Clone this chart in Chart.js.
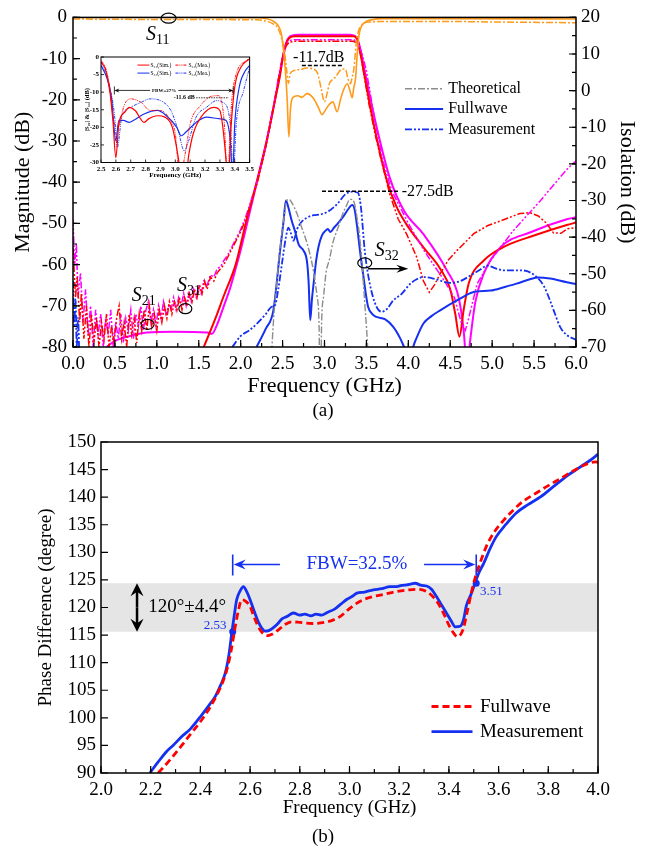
<!DOCTYPE html>
<html lang="pt">
<head>
<meta charset="utf-8">
<title>Magnitude e diferenca de fase</title>
<script src="https://cdn.jsdelivr.net/npm/chart.js@4.4.1/dist/chart.umd.min.js"></script>
<style>
  body { margin: 0; background: #fff; }
  #quadro { position: relative; width: 646px; height: 850px; overflow: hidden; }
  canvas { position: absolute; }
  #grafA { left: 0; top: 0; }
  #grafInset { left: 58px; top: 48px; }
  #grafB { left: 0; top: 420px; }
</style>
</head>
<body>
<div id="quadro">
  <canvas id="grafA" width="646" height="420"></canvas>
  <canvas id="grafInset" width="198" height="132"></canvas>
  <canvas id="grafB" width="646" height="430"></canvas>
</div>
<script>
// ---------- grafico (a): magnitude, eixo esquerdo (dB) ----------
var s11SimFreq = [0, 1.0, 2.2, 2.3, 2.38, 2.44, 2.48, 2.5, 2.53, 2.555, 2.575, 2.595, 2.62, 2.68, 2.73, 2.79, 2.87, 2.93, 2.97, 3.01, 3.05, 3.1, 3.15, 3.19, 3.22, 3.27, 3.3, 3.33, 3.35, 3.37, 3.39, 3.41, 3.44, 3.48, 3.56, 3.7, 4.5, 6.0];
var s11SimDb = [0, 0, -0.1, -0.3, -0.8, -1.8, -3.5, -6, -12, -20, -29, -22, -19.5, -19, -19.4, -18.5, -19.7, -22, -23.6, -22.5, -21.3, -20.5, -22.9, -20, -18, -16.1, -17.5, -19.5, -17, -14.9, -9, -4.5, -2.2, -1.2, -0.6, -0.3, -0.3, -0.4];

var s11MedFreq = [0, 1.0, 2.2, 2.3, 2.38, 2.44, 2.48, 2.52, 2.55, 2.57, 2.59, 2.64, 2.74, 2.78, 2.86, 2.92, 2.96, 3.0, 3.03, 3.06, 3.09, 3.13, 3.17, 3.21, 3.25, 3.28, 3.31, 3.33, 3.35, 3.38, 3.41, 3.46, 3.55, 3.7, 4.5, 5.0, 6.0];
var s11MedDb = [-0.4, -0.5, -0.6, -0.9, -1.5, -2.5, -4.5, -8, -13, -16, -13.7, -12.9, -12.5, -12.3, -12.5, -13.7, -17.3, -20.5, -18.5, -16, -15.2, -14.5, -13.3, -12.5, -12.6, -14.9, -16.1, -14.5, -12.5, -6, -3, -1.6, -1.1, -1.0, -1.0, -1.1, -1.3];

var s21SimFreq = [1.56, 1.70, 1.80, 1.94, 2.06, 2.19, 2.31, 2.41, 2.47, 2.50, 2.54, 2.58, 2.65, 3.35, 3.40, 3.44, 3.53, 3.63, 3.75, 3.86, 3.97, 4.18, 4.38, 4.50, 4.56, 4.61, 4.66, 4.72, 4.90, 5.17, 5.49, 5.89, 6.00];
var s21SimDb = [-80, -73, -67.5, -60, -50, -40, -30, -20, -14, -10, -6.5, -5, -4.6, -4.6, -6, -10, -20, -30, -40, -46, -50, -55.8, -61, -66, -72, -77.5, -71, -64.6, -59, -55.4, -53, -50.4, -49.8];

var s31SimFreq = [0.40, 0.50, 0.65, 0.88, 1.20, 1.60, 1.66, 1.71, 1.80, 1.87, 1.94, 2.00, 2.10, 2.20, 2.31, 2.41, 2.47, 2.51, 2.55, 2.60, 2.70, 3.30, 3.38, 3.42, 3.47, 3.55, 3.65, 3.78, 3.95, 4.18, 4.46, 4.60, 4.66, 4.70, 4.74, 4.80, 4.90, 5.10, 5.45, 5.89, 6.00];
var s31SimDb = [-80, -78.5, -77.5, -76.5, -76.3, -76.5, -76.8, -75, -70, -66, -61, -56.5, -48, -39.5, -30, -20, -13.5, -9, -5.8, -4.5, -4.2, -4.2, -4.8, -7, -12, -20, -29, -39, -47, -52.6, -61.4, -68, -76, -85, -78, -69, -62.2, -55.8, -52.2, -49, -48.5];

var s21MedFreq = [0.00, 0.03, 0.05, 0.08, 0.10, 0.13, 0.16, 0.19, 0.22, 0.25, 0.28, 0.31, 0.34, 0.37, 0.40, 0.43, 0.46, 0.49, 0.52, 0.55, 0.58, 0.61, 0.64, 0.67, 0.70, 0.73, 0.76, 0.79, 0.82, 0.85, 0.88, 0.91, 0.94, 0.97, 1.00, 1.03, 1.06, 1.09, 1.12, 1.15, 1.18, 1.21, 1.24, 1.27, 1.30, 1.33, 1.36, 1.39, 1.42, 1.45, 1.48, 1.51, 1.54, 1.57, 1.60, 1.64, 1.68, 1.72, 1.76, 1.80, 1.85, 1.90, 1.95, 2.00, 2.05, 2.10, 2.20, 2.30, 2.40, 2.46, 2.50, 2.54, 2.58, 2.65, 3.35, 3.40, 3.44, 3.48, 3.53, 3.60, 3.68, 3.78, 3.88, 3.98, 4.10, 4.18, 4.25, 4.31, 4.38, 4.48, 4.58, 4.78, 4.95, 5.10, 5.33, 5.45, 5.55, 5.65, 5.73, 5.82, 5.90, 6.00];
var s21MedDb = [-56, -68, -63, -74, -67, -78, -70, -80, -72, -79, -73, -80, -74, -78, -72, -80, -75, -79, -73, -70, -78, -74, -80, -72, -77, -73, -79, -72, -76, -71, -76, -70, -75, -72, -76, -71, -74, -70, -73, -69, -72, -69, -71, -68, -71, -68, -70, -67, -69, -66, -68, -65, -67, -64, -66, -63, -64, -62, -61, -60, -58, -56, -54, -52, -49.5, -46.5, -40, -31.5, -21, -14, -10, -7, -6, -5.8, -5.8, -6.5, -10, -15, -21, -28, -35, -43, -49, -52.6, -58.2, -64, -66.7, -65, -62.2, -58.8, -56.6, -52.5, -50.5, -49.4, -47.6, -47.4, -48.2, -50, -52.3, -52.4, -51.3, -51];

var s31MedFreq = [0.00, 0.02, 0.04, 0.06, 0.09, 0.12, 0.15, 0.18, 0.21, 0.24, 0.27, 0.30, 0.33, 0.36, 0.39, 0.42, 0.45, 0.48, 0.51, 0.54, 0.57, 0.60, 0.63, 0.66, 0.69, 0.72, 0.75, 0.78, 0.81, 0.84, 0.87, 0.90, 0.93, 0.96, 0.99, 1.02, 1.05, 1.08, 1.11, 1.14, 1.17, 1.20, 1.23, 1.26, 1.29, 1.32, 1.35, 1.38, 1.41, 1.44, 1.47, 1.50, 1.53, 1.56, 1.60, 1.64, 1.68, 1.72, 1.76, 1.80, 1.85, 1.90, 1.95, 2.00, 2.05, 2.10, 2.20, 2.30, 2.40, 2.46, 2.50, 2.54, 2.58, 2.65, 3.35, 3.40, 3.45, 3.50, 3.60, 3.70, 3.80, 4.00, 4.20, 4.40, 4.55, 4.63, 4.68, 4.72, 4.82, 4.98, 5.25, 5.57, 5.89, 6.00];
var s31MedDb = [-49, -60, -55, -68, -62, -74, -66, -77, -70, -80, -71, -77, -72, -80, -73, -77, -71, -80, -74, -78, -72, -79, -73, -76, -71, -78, -72, -75, -70, -76, -71, -69, -74, -71, -75, -70, -73, -69, -72, -70, -71, -68, -71, -68, -70, -67, -70, -67, -69, -66, -68, -65, -67, -64, -65, -62.5, -63, -61, -60.5, -59, -57.5, -55.5, -53.5, -51.5, -49, -46, -39.5, -31, -20.5, -13.5, -9.5, -6.5, -5.6, -5.4, -5.4, -6, -9, -13, -25, -35, -42, -50, -57, -63, -68, -74, -76, -73, -64.7, -59, -51.8, -44.6, -36.9, -34.8];

// ---------- grafico (a): isolacao S32, eixo direito (dB) ----------
var teoFreq = [2.36, 2.40, 2.43, 2.46, 2.49, 2.52, 2.55, 2.58, 2.62, 2.67, 2.73, 2.79, 2.84, 2.87, 2.91, 2.935, 2.95, 2.965, 2.99, 3.02, 3.06, 3.10, 3.16, 3.22, 3.27, 3.30, 3.33, 3.36, 3.39, 3.42, 3.45, 3.48, 3.51, 3.53];
var teoDb = [-75, -60, -52.7, -45, -39.2, -34, -30, -29.7, -31, -33.5, -37.5, -41.5, -46, -49.5, -56, -64, -90, -64, -56, -49.5, -46, -41.5, -37.5, -33.5, -31, -29.7, -29.7, -31, -35, -40, -48, -58, -68, -78];

var s32SimFreq = [2.19, 2.30, 2.39, 2.47, 2.51, 2.54, 2.57, 2.61, 2.65, 2.69, 2.75, 2.79, 2.81, 2.83, 2.85, 2.87, 2.90, 2.93, 2.97, 3.01, 3.04, 3.07, 3.11, 3.15, 3.23, 3.30, 3.33, 3.36, 3.40, 3.43, 3.46, 3.49, 3.52, 3.57, 3.62, 3.72, 3.82, 3.90, 3.96, 4.01, 4.08, 4.18, 4.28, 4.38, 4.58, 4.78, 4.98, 5.15, 5.29, 5.45, 5.55, 5.69, 5.89, 6.00];
var s32SimDb = [-70, -65, -60, -43.7, -36, -30, -32, -35.6, -38.5, -41.9, -43.7, -46.5, -52, -62.7, -57, -52.7, -46.5, -42.5, -39.5, -38.3, -37.8, -38.6, -37.5, -36.5, -34.2, -31.8, -31.2, -32.5, -39.2, -45, -50, -55, -59, -61, -61.8, -62.4, -64.5, -67.5, -70.5, -72.5, -68.5, -63.6, -61.5, -60, -57.3, -55, -54.6, -53.6, -52.7, -51.5, -51, -51.3, -52.3, -52.8];

var s32MedFreq = [0.00, 0.015, 0.03, 0.045, 0.06, 0.075, 0.1, 1.90, 2.00, 2.10, 2.20, 2.30, 2.37, 2.41, 2.45, 2.50, 2.54, 2.57, 2.60, 2.63, 2.67, 2.72, 2.79, 2.87, 2.95, 3.05, 3.15, 3.25, 3.33, 3.40, 3.42, 3.44, 3.48, 3.54, 3.62, 3.68, 3.75, 3.82, 3.92, 4.02, 4.10, 4.18, 4.30, 4.50, 4.62, 4.74, 4.85, 4.94, 5.04, 5.14, 5.37, 5.53, 5.62, 5.69, 5.75, 5.81, 5.89, 6.00];
var s32MedDb = [-52, -64, -57, -70, -62, -72, null, -70, -67, -65.5, -63.5, -61, -59, -58.6, -54, -46, -40, -37.4, -39, -41, -38, -36, -34.7, -34, -33.8, -32.9, -31, -28.3, -27.6, -27.9, -29.5, -33, -43.7, -52.7, -59, -60.4, -59.5, -57.3, -55.5, -52.8, -51.5, -50.9, -51.3, -52.5, -52, -50.5, -49, -47.8, -48.5, -49.1, -49.1, -50.9, -53.5, -57.3, -61, -64.5, -66.7, -68];

// ---------- detalhe (inset): |S22| e |S33| ----------
var s22SimFreq = [2.50, 2.53, 2.56, 2.58, 2.60, 2.62, 2.66, 2.69, 2.73, 2.79, 2.82, 2.88, 2.93, 2.98, 3.02, 3.045, 3.065, 3.09, 3.12, 3.18, 3.26, 3.30, 3.32, 3.34, 3.355, 3.375, 3.40, 3.44, 3.50];
var s22SimDb = [-1.4, -3.5, -10, -18, -28.6, -19, -15.7, -14.3, -15.2, -18.6, -17.6, -16.7, -17.1, -20, -28.6, -36, -36, -28, -21.9, -16.7, -14.3, -15.2, -20, -28.6, -36, -20, -8.5, -3, -0.5];
var s22MedFreq = [2.50, 2.53, 2.56, 2.58, 2.61, 2.66, 2.70, 2.77, 2.83, 2.90, 2.96, 3.00, 3.03, 3.07, 3.10, 3.17, 3.23, 3.29, 3.31, 3.33, 3.35, 3.38, 3.41, 3.47, 3.50];
var s22MedDb = [-1, -3, -9, -17, -20, -13.3, -11.9, -12.9, -15.2, -15.2, -17.6, -21.9, -34, -26.7, -19, -13.8, -11.4, -11, -12.4, -19, -34, -12.4, -4.8, -1.2, -0.5];
var s33SimFreq = [2.50, 2.54, 2.57, 2.60, 2.62, 2.65, 2.69, 2.72, 2.79, 2.88, 2.94, 3.01, 3.04, 3.07, 3.14, 3.21, 3.30, 3.34, 3.37, 3.385, 3.40, 3.43, 3.47, 3.50];
var s33SimDb = [-2.4, -6, -11.4, -23.8, -18, -18, -18.6, -18, -16.2, -15.2, -16.7, -20, -22.4, -21.4, -18.6, -17.1, -17.6, -18, -23.8, -34, -19, -8.6, -4, -2.4];
var s33MedFreq = [2.50, 2.55, 2.59, 2.61, 2.64, 2.70, 2.77, 2.83, 2.90, 2.97, 3.02, 3.06, 3.09, 3.14, 3.21, 3.28, 3.32, 3.37, 3.39, 3.41, 3.46, 3.50];
var s33MedDb = [-1.4, -7, -16.2, -25.7, -17, -14.3, -12.9, -11.9, -12.4, -15.2, -21, -26.7, -23.8, -17.1, -14.3, -12.4, -12.9, -19, -34, -19, -9.5, -2.9];

// ---------- grafico (b): diferenca de fase ----------
var fwFreq = [2.23, 2.28, 2.325, 2.365, 2.405, 2.44, 2.47, 2.49, 2.51, 2.525, 2.54, 2.553, 2.566, 2.58, 2.60, 2.615, 2.633, 2.65, 2.673, 2.69, 2.71, 2.74, 2.767, 2.80, 2.85, 2.91, 2.96, 2.995, 3.03, 3.06, 3.096, 3.14, 3.19, 3.24, 3.28, 3.31, 3.335, 3.356, 3.38, 3.40, 3.42, 3.435, 3.45, 3.46, 3.475, 3.49, 3.505, 3.525, 3.55, 3.58, 3.62, 3.66, 3.70, 3.75, 3.80, 3.85, 3.89, 3.93, 3.96, 3.99, 4.0];
var fwFase = [90, 92.5, 95, 97.3, 99.6, 102, 104.5, 106.5, 109.3, 112.5, 116.5, 119.5, 121.4, 121.2, 120.2, 118.4, 116.5, 115.4, 114.9, 115.2, 115.8, 116.9, 117.4, 117.3, 117.1, 117.4, 118.3, 119.6, 120.8, 121.5, 122, 122.4, 122.9, 123.2, 123.3, 122.9, 122, 120.8, 118.8, 116.8, 115.3, 114.7, 115.3, 116.5, 119.5, 122.6, 125.3, 128, 131, 133.5, 135.8, 137.7, 139.3, 140.7, 142.1, 143.4, 144.5, 145.5, 146.1, 146.4, 146.3];

var medFreq = [2.197, 2.23, 2.264, 2.29, 2.325, 2.36, 2.405, 2.43, 2.46, 2.48, 2.50, 2.515, 2.526, 2.536, 2.546, 2.56, 2.573, 2.585, 2.60, 2.615, 2.633, 2.648, 2.66, 2.675, 2.69, 2.71, 2.727, 2.75, 2.774, 2.80, 2.82, 2.845, 2.865, 2.888, 2.91, 2.94, 2.965, 2.99, 3.01, 3.03, 3.06, 3.096, 3.13, 3.163, 3.19, 3.21, 3.23, 3.25, 3.264, 3.29, 3.31, 3.33, 3.35, 3.37, 3.39, 3.41, 3.425, 3.445, 3.46, 3.47, 3.49, 3.505, 3.52, 3.54, 3.565, 3.59, 3.63, 3.67, 3.72, 3.77, 3.82, 3.87, 3.91, 3.95, 3.975, 4.0];
var medFase = [90, 92, 93.9, 95, 96.6, 98, 100.5, 102, 103.9, 105.8, 108.1, 111.5, 115.3, 118.5, 121.4, 123, 123.8, 123, 121.4, 119.5, 117.4, 116.2, 115.7, 115.8, 116.2, 117, 117.9, 118.4, 119.0, 118.6, 118.8, 118.5, 118.8, 118.6, 119.1, 119.7, 120.6, 121.5, 122, 122.6, 122.8, 123.2, 123.4, 123.8, 123.8, 124.0, 124.1, 124.3, 124.4, 124.0, 123.9, 123.3, 122, 120.5, 119, 117.5, 116.5, 116.6, 118, 120.3, 122.5, 124.4, 126.2, 128, 130.6, 132.8, 135.1, 137.1, 138.7, 140.1, 141.9, 143.7, 144.9, 146.1, 146.9, 147.8];

var bordaFreq = [2.53, 3.51];
var bordaFase = [115.6, 124.4];
var faixaCentro = 120;
var faixaDesvio = 4.4;

// ---------- estilos ----------
var fonte = "'Liberation Serif', 'Times New Roman', serif";
Chart.defaults.font.family = fonte;
Chart.defaults.color = "#000";

var corVermelho = "#ff0000";
var corMagenta = "#ff00ff";
var corLaranja = "#ff9a1a";
var corAzul = "#1530f0";
var corCinza = "#8c8c8c";

var tracoPonto = [7, 2, 2, 2];
var tracoDoisPontos = [7, 2, 2, 2, 2, 2];

function pontos(xs, ys) {
  return xs.map(function (x, i) { return { x: x, y: ys[i] }; });
}

function linha(rotulo, xs, ys, cor, larg, traco, eixo, suave) {
  return {
    label: rotulo,
    data: pontos(xs, ys),
    borderColor: cor,
    backgroundColor: cor,
    borderWidth: larg,
    borderDash: traco || [],
    yAxisID: eixo || "y",
    pointRadius: 0,
    fill: false,
    tension: 0,
    cubicInterpolationMode: suave ? "monotone" : "default"
  };
}

// marcas de escala para dentro da area do grafico
function marcas(ctx, area, escala, passo, comp, lado) {
  ctx.beginPath();
  for (var v = escala.min; v <= escala.max + 1e-6; v += passo) {
    var p = escala.getPixelForValue(v);
    if (lado === "bottom") { ctx.moveTo(p, area.bottom); ctx.lineTo(p, area.bottom - comp); }
    if (lado === "left") { ctx.moveTo(area.left, p); ctx.lineTo(area.left + comp, p); }
    if (lado === "right") { ctx.moveTo(area.right, p); ctx.lineTo(area.right - comp, p); }
  }
  ctx.stroke();
}

function seta(ctx, x1, y1, x2, y2, tam, meia) {
  var ang = Math.atan2(y2 - y1, x2 - x1);
  var c = Math.cos(ang), s = Math.sin(ang);
  ctx.beginPath();
  ctx.moveTo(x1, y1);
  ctx.lineTo(x2 - c * tam * 0.6, y2 - s * tam * 0.6);
  ctx.stroke();
  ctx.beginPath();
  ctx.moveTo(x2, y2);
  ctx.lineTo(x2 - c * tam - s * meia, y2 - s * tam + c * meia);
  ctx.lineTo(x2 - c * tam * 0.65, y2 - s * tam * 0.65);
  ctx.lineTo(x2 - c * tam + s * meia, y2 - s * tam - c * meia);
  ctx.closePath();
  ctx.fill();
}

function rotuloS(ctx, x, y, sub) {
  ctx.textAlign = "left";
  ctx.textBaseline = "alphabetic";
  ctx.font = "italic 20px " + fonte;
  ctx.fillText("S", x, y);
  var w = ctx.measureText("S").width;
  ctx.font = "14px " + fonte;
  ctx.fillText(sub, x + w, y + 4);
}

function elipse(ctx, x, y, rx, ry) {
  ctx.beginPath();
  ctx.ellipse(x, y, rx, ry, 0, 0, Math.PI * 2);
  ctx.stroke();
}

function eixoNum(casas) {
  return function (v) { return casas ? Number(v).toFixed(casas) : String(Math.round(v)); };
}

// ---------- plugin do grafico (a) ----------
var legendaA = [
  { texto: "Theoretical", cor: corCinza, traco: tracoPonto, larg: 1.4 },
  { texto: "Fullwave", cor: corAzul, traco: [], larg: 2 },
  { texto: "Measurement", cor: corAzul, traco: tracoDoisPontos, larg: 1.8 }
];

var pluginA = {
  id: "anotacoesA",
  afterDatasetsDraw: function (chart) {
    var ctx = chart.ctx, a = chart.chartArea;
    var sx = chart.scales.x, sy = chart.scales.y, sy2 = chart.scales.y2;
    var X = function (v) { return sx.getPixelForValue(v); };
    var Y = function (v) { return sy.getPixelForValue(v); };
    var Y2 = function (v) { return sy2.getPixelForValue(v); };
    ctx.save();
    ctx.strokeStyle = "#000";
    ctx.fillStyle = "#000";
    ctx.lineWidth = 1.2;
    marcas(ctx, a, sx, 0.5, 7, "bottom");
    marcas(ctx, a, sx, 0.25, 4, "bottom");
    marcas(ctx, a, sy, 10, 7, "left");
    marcas(ctx, a, sy, 5, 4, "left");
    marcas(ctx, a, sy2, 10, 7, "right");
    marcas(ctx, a, sy2, 5, 4, "right");
    ctx.lineWidth = 1.5;
    ctx.strokeRect(a.left, a.top, a.right - a.left, a.bottom - a.top);

    // identificacao das curvas
    ctx.lineWidth = 1.2;
    elipse(ctx, X(1.14), Y(-0.2), 7.5, 5);
    rotuloS(ctx, X(0.87), Y(-5.4), "11");
    elipse(ctx, X(0.89), Y(-74.5), 6.5, 5);
    rotuloS(ctx, X(0.70), Y(-68.8), "21");
    elipse(ctx, X(1.34), Y(-70.7), 6.5, 5);
    rotuloS(ctx, X(1.24), Y(-66.3), "31");
    elipse(ctx, X(3.48), Y(-59.6), 7, 5);
    rotuloS(ctx, X(3.60), Y(-57.8), "32");
    ctx.lineWidth = 1.6;
    seta(ctx, X(3.52), Y(-61), X(4.0), Y(-61), 12, 4);

    // niveis de referencia
    ctx.setLineDash([4, 2]);
    ctx.lineWidth = 1.5;
    ctx.beginPath();
    ctx.moveTo(X(2.73), Y(-11.7));
    ctx.lineTo(X(3.225), Y(-11.7));
    ctx.moveTo(X(2.97), Y2(-27.5));
    ctx.lineTo(X(3.90), Y2(-27.5));
    ctx.stroke();
    ctx.setLineDash([]);
    ctx.font = "16px " + fonte;
    ctx.textBaseline = "middle";
    ctx.textAlign = "left";
    ctx.fillText("-11.7dB", X(2.625), Y(-9.9));
    ctx.fillText("-27.5dB", X(3.92), Y2(-27.6));

    // legenda
    legendaA.forEach(function (item, i) {
      var yy = Y(-17.3 - i * 4.95);
      ctx.strokeStyle = item.cor;
      ctx.lineWidth = item.larg;
      ctx.setLineDash(item.traco);
      ctx.beginPath();
      ctx.moveTo(X(3.96), yy);
      ctx.lineTo(X(4.415), yy);
      ctx.stroke();
      ctx.setLineDash([]);
      ctx.fillStyle = "#000";
      ctx.font = "16px " + fonte;
      ctx.fillText(item.texto, X(4.475), yy);
    });

    ctx.font = "19px " + fonte;
    ctx.textAlign = "center";
    ctx.fillText("(a)", chart.width / 2, 411);
    ctx.restore();
  }
};

var escalaBase = {
  grid: { display: false, drawTicks: false },
  border: { display: false }
};

new Chart(document.getElementById("grafA"), {
  type: "line",
  data: {
    datasets: [
      linha("S11 Measurement", s11MedFreq, s11MedDb, corLaranja, 1.5, tracoPonto, "y", true),
      linha("S11 Fullwave", s11SimFreq, s11SimDb, corLaranja, 1.6, [], "y", true),
      linha("Theoretical", teoFreq, teoDb, corCinza, 1.4, tracoPonto, "y2", true),
      linha("S32 Measurement", s32MedFreq, s32MedDb, corAzul, 1.8, tracoDoisPontos, "y2", true),
      linha("S32 Fullwave", s32SimFreq, s32SimDb, corAzul, 2, [], "y2", true),
      linha("S21 Measurement", s21MedFreq, s21MedDb, corVermelho, 1.5, tracoDoisPontos, "y", false),
      linha("S31 Measurement", s31MedFreq, s31MedDb, corMagenta, 1.5, tracoDoisPontos, "y", false),
      linha("S21 Fullwave", s21SimFreq, s21SimDb, corVermelho, 2, [], "y", true),
      linha("S31 Fullwave", s31SimFreq, s31SimDb, corMagenta, 2, [], "y", true)
    ]
  },
  options: {
    responsive: false,
    animation: false,
    events: [],
    layout: { padding: { top: 15, left: 0, right: 0, bottom: 0 } },
    plugins: { legend: { display: false }, tooltip: { enabled: false } },
    scales: {
      x: Object.assign({}, escalaBase, {
        type: "linear", min: 0, max: 6,
        ticks: { stepSize: 0.5, autoSkip: false, maxRotation: 0, padding: 6, font: { size: 19 }, callback: eixoNum(1) },
        title: { display: true, text: "Frequency (GHz)", font: { size: 22 }, padding: { top: 0, bottom: 21 } },
        afterFit: function (e) { e.height = 73; }
      }),
      y: Object.assign({}, escalaBase, {
        type: "linear", position: "left", min: -80, max: 0,
        ticks: { stepSize: 10, padding: 6, font: { size: 19 }, callback: eixoNum(0) },
        title: { display: true, text: "Magnitude (dB)", font: { size: 22 }, padding: { top: 10, bottom: 0 } },
        afterFit: function (e) { e.width = 73; }
      }),
      y2: Object.assign({}, escalaBase, {
        type: "linear", position: "right", min: -70, max: 20,
        ticks: { stepSize: 10, padding: 5, font: { size: 19 }, callback: eixoNum(0) },
        title: { display: true, text: "Isolation (dB)", font: { size: 22 }, padding: { top: 6, bottom: 0 } },
        afterFit: function (e) { e.width = 70; }
      })
    }
  },
  plugins: [pluginA]
});

// ---------- detalhe (inset) ----------
var legendaInset = [
  { texto: "S\u2082\u2082(Sim.)", cor: corVermelho, traco: [], col: 0, lin: 0 },
  { texto: "S\u2082\u2082(Mea.)", cor: corVermelho, traco: [3, 1, 1, 1, 1, 1], col: 1, lin: 0 },
  { texto: "S\u2083\u2083(Sim.)", cor: corAzul, traco: [], col: 0, lin: 1 },
  { texto: "S\u2083\u2083(Mea.)", cor: corAzul, traco: [3, 1, 1, 1, 1, 1], col: 1, lin: 1 }
];

var pluginInset = {
  id: "anotacoesInset",
  beforeDatasetsDraw: function (chart) {
    var a = chart.chartArea, ctx = chart.ctx;
    ctx.save();
    ctx.fillStyle = "#fff";
    ctx.fillRect(a.left, a.top, a.right - a.left, a.bottom - a.top);
    ctx.restore();
  },
  afterDatasetsDraw: function (chart) {
    var ctx = chart.ctx, a = chart.chartArea;
    var sx = chart.scales.x, sy = chart.scales.y;
    var X = function (v) { return sx.getPixelForValue(v); };
    var Y = function (v) { return sy.getPixelForValue(v); };
    ctx.save();
    ctx.strokeStyle = "#000";
    ctx.fillStyle = "#000";
    ctx.lineWidth = 0.8;
    marcas(ctx, a, sx, 0.1, 3, "bottom");
    marcas(ctx, a, sy, 5, 3, "left");
    ctx.lineWidth = 1;
    ctx.strokeRect(a.left, a.top, a.right - a.left, a.bottom - a.top);

    // FBW
    var yf = Y(-9.5);
    ctx.lineWidth = 0.8;
    ctx.beginPath();
    ctx.moveTo(X(2.59), yf - 4); ctx.lineTo(X(2.59), yf + 4);
    ctx.moveTo(X(3.39), yf - 4); ctx.lineTo(X(3.39), yf + 4);
    ctx.stroke();
    seta(ctx, X(2.83), yf, X(2.59), yf, 5, 2);
    seta(ctx, X(3.02), yf, X(3.39), yf, 5, 2);
    ctx.font = "bold 5px " + fonte;
    ctx.textAlign = "center";
    ctx.textBaseline = "middle";
    ctx.fillText("FBW=27%", X(2.925), yf);
    ctx.setLineDash([1.5, 1]);
    ctx.beginPath();
    ctx.moveTo(X(3.14), Y(-11.6)); ctx.lineTo(X(3.36), Y(-11.6));
    ctx.stroke();
    ctx.setLineDash([]);
    ctx.font = "bold 6px " + fonte;
    ctx.fillText("-11.6 dB", X(3.06), Y(-11.6));

    // legenda
    legendaInset.forEach(function (item) {
      var x0 = X(2.745) + item.col * 38;
      var yy = Y(-2.3) + item.lin * 8;
      ctx.strokeStyle = item.cor;
      ctx.lineWidth = 1;
      ctx.setLineDash(item.traco);
      ctx.beginPath();
      ctx.moveTo(x0, yy); ctx.lineTo(x0 + 12, yy);
      ctx.stroke();
      ctx.setLineDash([]);
      ctx.font = "5.5px " + fonte;
      ctx.textAlign = "left";
      ctx.fillText(item.texto, x0 + 13, yy);
    });
    ctx.restore();
  }
};

new Chart(document.getElementById("grafInset"), {
  type: "line",
  data: {
    datasets: [
      linha("S22 Sim.", s22SimFreq, s22SimDb, corVermelho, 1.2, [], "y", true),
      linha("S22 Mea.", s22MedFreq, s22MedDb, corVermelho, 0.9, [3, 1, 1, 1, 1, 1], "y", true),
      linha("S33 Sim.", s33SimFreq, s33SimDb, corAzul, 1.2, [], "y", true),
      linha("S33 Mea.", s33MedFreq, s33MedDb, corAzul, 0.9, [3, 1, 1, 1, 1, 1], "y", true)
    ]
  },
  options: {
    responsive: false,
    animation: false,
    events: [],
    layout: { padding: { top: 9, left: 0, right: 5, bottom: 0 } },
    plugins: { legend: { display: false }, tooltip: { enabled: false } },
    scales: {
      x: Object.assign({}, escalaBase, {
        type: "linear", min: 2.5, max: 3.5,
        ticks: { stepSize: 0.1, autoSkip: false, maxRotation: 0, padding: 2, font: { size: 7, weight: "bold" }, callback: eixoNum(1) },
        title: { display: true, text: "Frequency (GHz)", font: { size: 7, weight: "bold" }, padding: { top: 0, bottom: 1 } },
        afterFit: function (e) { e.height = 17.5; }
      }),
      y: Object.assign({}, escalaBase, {
        type: "linear", min: -30, max: 0,
        ticks: { stepSize: 5, padding: 2, font: { size: 7, weight: "bold" }, callback: eixoNum(0) },
        title: { display: true, text: "|S\u2082\u2082| & |S\u2083\u2083| (dB)", font: { size: 6.5, weight: "bold" }, padding: { top: 25, bottom: 0 } },
        afterFit: function (e) { e.width = 43; }
      })
    }
  },
  plugins: [pluginInset]
});

// ---------- plugin do grafico (b) ----------
var legendaB = [
  { texto: "Fullwave", cor: corVermelho, traco: [7, 4] },
  { texto: "Measurement", cor: corAzul, traco: [] }
];

var pluginB = {
  id: "anotacoesB",
  beforeDatasetsDraw: function (chart) {
    var ctx = chart.ctx, a = chart.chartArea, sy = chart.scales.y;
    var yTopo = sy.getPixelForValue(faixaCentro + faixaDesvio);
    var yBase = sy.getPixelForValue(faixaCentro - faixaDesvio);
    ctx.save();
    ctx.fillStyle = "#e5e5e5";
    ctx.fillRect(a.left, yTopo, a.right - a.left, yBase - yTopo);
    ctx.restore();
  },
  afterDatasetsDraw: function (chart) {
    var ctx = chart.ctx, a = chart.chartArea;
    var sx = chart.scales.x, sy = chart.scales.y;
    var X = function (v) { return sx.getPixelForValue(v); };
    var Y = function (v) { return sy.getPixelForValue(v); };
    ctx.save();
    ctx.strokeStyle = "#000";
    ctx.fillStyle = "#000";
    ctx.lineWidth = 1.2;
    marcas(ctx, a, sx, 0.2, 7, "bottom");
    marcas(ctx, a, sx, 0.1, 4, "bottom");
    marcas(ctx, a, sy, 5, 7, "left");
    ctx.lineWidth = 1.5;
    ctx.strokeRect(a.left, a.top, a.right - a.left, a.bottom - a.top);

    // faixa 120 +- 4.4
    var xa = X(2.145);
    ctx.lineWidth = 2.5;
    seta(ctx, xa, Y(faixaCentro), xa, Y(faixaCentro + faixaDesvio), 13, 6.5);
    seta(ctx, xa, Y(faixaCentro), xa, Y(faixaCentro - faixaDesvio), 13, 6.5);
    ctx.font = "19px " + fonte;
    ctx.textAlign = "left";
    ctx.textBaseline = "middle";
    ctx.fillText("120\u00b0\u00b14.4\u00b0", X(2.19), Y(120));

    // FBW
    ctx.strokeStyle = corAzul;
    ctx.fillStyle = corAzul;
    ctx.lineWidth = 1.6;
    var yb = Y(127.8);
    ctx.beginPath();
    ctx.moveTo(X(bordaFreq[0]), Y(129.6)); ctx.lineTo(X(bordaFreq[0]), Y(125.8));
    ctx.moveTo(X(bordaFreq[1]), Y(129.6)); ctx.lineTo(X(bordaFreq[1]), Y(125.8));
    ctx.stroke();
    seta(ctx, X(2.72), yb, X(bordaFreq[0]) + 1, yb, 12, 5);
    seta(ctx, X(3.30), yb, X(bordaFreq[1]) - 1, yb, 12, 5);
    ctx.font = "19px " + fonte;
    ctx.textAlign = "center";
    ctx.fillText("FBW=32.5%", X(3.03), yb);
    ctx.font = "13px " + fonte;
    ctx.textAlign = "right";
    ctx.fillText(bordaFreq[0].toFixed(2), X(2.505), Y(116.8));
    ctx.textAlign = "left";
    ctx.fillText(bordaFreq[1].toFixed(2), X(3.525), Y(122.9));

    // legenda
    legendaB.forEach(function (item, i) {
      var yy = Y(102.05 - i * 4.55);
      ctx.strokeStyle = item.cor;
      ctx.lineWidth = 2.8;
      ctx.setLineDash(item.traco);
      ctx.beginPath();
      ctx.moveTo(X(3.33), yy); ctx.lineTo(X(3.495), yy);
      ctx.stroke();
      ctx.setLineDash([]);
      ctx.fillStyle = "#000";
      ctx.font = "19px " + fonte;
      ctx.textAlign = "left";
      ctx.fillText(item.texto, X(3.525), yy);
    });

    ctx.fillStyle = "#000";
    ctx.font = "19px " + fonte;
    ctx.textAlign = "center";
    ctx.fillText("(b)", chart.width / 2, 417);
    ctx.restore();
  }
};

var marcadores = linha("FBW edges", bordaFreq, bordaFase, corAzul, 0, [], "y", false);
marcadores.showLine = false;
marcadores.pointRadius = 3.5;
marcadores.pointBackgroundColor = corAzul;
marcadores.pointBorderWidth = 0;

new Chart(document.getElementById("grafB"), {
  type: "line",
  data: {
    datasets: [
      linha("Fullwave", fwFreq, fwFase, corVermelho, 2.8, [7, 4], "y", true),
      linha("Measurement", medFreq, medFase, corAzul, 2.8, [], "y", true),
      marcadores
    ]
  },
  options: {
    responsive: false,
    animation: false,
    events: [],
    layout: { padding: { top: 22, left: 0, right: 48, bottom: 0 } },
    plugins: { legend: { display: false }, tooltip: { enabled: false } },
    scales: {
      x: Object.assign({}, escalaBase, {
        type: "linear", min: 2, max: 4,
        ticks: { stepSize: 0.2, autoSkip: false, maxRotation: 0, padding: 6, font: { size: 19 }, callback: eixoNum(1) },
        title: { display: true, text: "Frequency (GHz)", font: { size: 19 }, padding: { top: 0, bottom: 31 } },
        afterFit: function (e) { e.height = 77; }
      }),
      y: Object.assign({}, escalaBase, {
        type: "linear", min: 90, max: 150,
        ticks: { stepSize: 5, padding: 5, font: { size: 19 }, callback: eixoNum(0) },
        title: { display: true, text: "Phase Difference (degree)", font: { size: 19 }, padding: { top: 35, bottom: 0 } },
        afterFit: function (e) { e.width = 101; }
      })
    }
  },
  plugins: [pluginB]
});
</script>
</body>
</html>
